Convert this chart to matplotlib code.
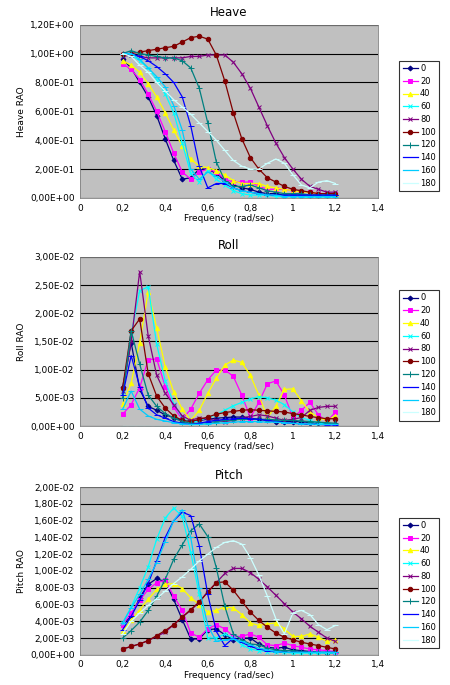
import matplotlib
matplotlib.use("Agg")
import matplotlib.pyplot as plt
from matplotlib.ticker import FuncFormatter, MultipleLocator

freq = [0.20, 0.24, 0.28, 0.32, 0.36, 0.40, 0.44, 0.48, 0.52, 0.56, 0.60, 0.64, 0.68,
        0.72, 0.76, 0.80, 0.84, 0.88, 0.92, 0.96, 1.00, 1.04, 1.08, 1.12, 1.16, 1.20]
headings = ["0", "20", "40", "60", "80", "100", "120", "140", "160", "180"]

heave = {
    "0": [0.96, 0.90, 0.80, 0.70, 0.57, 0.41, 0.26, 0.13, 0.14, 0.20, 0.20, 0.17, 0.12, 0.09, 0.07, 0.06, 0.04, 0.03, 0.03, 0.02, 0.02, 0.02, 0.02, 0.02, 0.02, 0.02],
    "20": [0.93, 0.89, 0.82, 0.72, 0.60, 0.46, 0.31, 0.18, 0.13, 0.18, 0.20, 0.18, 0.13, 0.11, 0.11, 0.11, 0.08, 0.06, 0.06, 0.06, 0.05, 0.04, 0.04, 0.03, 0.03, 0.03],
    "40": [0.95, 0.92, 0.87, 0.79, 0.70, 0.59, 0.47, 0.36, 0.27, 0.22, 0.21, 0.19, 0.16, 0.12, 0.10, 0.10, 0.10, 0.08, 0.07, 0.06, 0.05, 0.04, 0.04, 0.03, 0.03, 0.03],
    "60": [0.99, 0.99, 0.95, 0.90, 0.82, 0.72, 0.59, 0.38, 0.17, 0.11, 0.19, 0.13, 0.09, 0.05, 0.03, 0.02, 0.02, 0.02, 0.01, 0.01, 0.01, 0.01, 0.00, 0.00, 0.00, 0.00],
    "80": [0.98, 0.99, 0.98, 0.97, 0.97, 0.97, 0.97, 0.97, 0.98, 0.98, 0.99, 0.99, 0.99, 0.94, 0.86, 0.76, 0.63, 0.50, 0.38, 0.28, 0.20, 0.13, 0.08, 0.06, 0.04, 0.04],
    "100": [1.00, 1.00, 1.01, 1.02, 1.03, 1.04, 1.05, 1.08, 1.11, 1.12, 1.10, 0.99, 0.81, 0.59, 0.41, 0.28, 0.20, 0.14, 0.11, 0.08, 0.06, 0.05, 0.04, 0.03, 0.03, 0.03],
    "120": [1.00, 1.02, 1.00, 0.99, 0.98, 0.97, 0.97, 0.95, 0.90, 0.76, 0.52, 0.25, 0.12, 0.08, 0.08, 0.09, 0.07, 0.05, 0.04, 0.03, 0.03, 0.03, 0.02, 0.02, 0.02, 0.02],
    "140": [1.00, 1.00, 0.98, 0.95, 0.91, 0.86, 0.80, 0.70, 0.50, 0.22, 0.07, 0.10, 0.10, 0.07, 0.05, 0.04, 0.03, 0.02, 0.02, 0.02, 0.02, 0.02, 0.02, 0.02, 0.02, 0.02],
    "160": [1.00, 1.00, 0.96, 0.90, 0.84, 0.77, 0.64, 0.47, 0.20, 0.13, 0.18, 0.15, 0.11, 0.07, 0.05, 0.04, 0.03, 0.02, 0.02, 0.01, 0.01, 0.01, 0.01, 0.01, 0.01, 0.01],
    "180": [1.00, 0.98, 0.92, 0.87, 0.80, 0.74, 0.68, 0.63, 0.58, 0.52, 0.46, 0.40, 0.33, 0.26, 0.22, 0.20, 0.20, 0.24, 0.27, 0.24, 0.16, 0.09, 0.07, 0.11, 0.12, 0.10],
}

# roll values in units of 1e-2
roll = {
    "0": [0.69, 1.48, 0.65, 0.35, 0.28, 0.20, 0.15, 0.10, 0.09, 0.10, 0.12, 0.14, 0.15, 0.16, 0.16, 0.14, 0.12, 0.10, 0.08, 0.08, 0.08, 0.08, 0.06, 0.05, 0.04, 0.03],
    "20": [0.21, 0.38, 0.68, 1.18, 1.19, 0.70, 0.33, 0.12, 0.30, 0.58, 0.82, 0.99, 1.00, 0.88, 0.55, 0.15, 0.42, 0.75, 0.80, 0.55, 0.15, 0.28, 0.42, 0.20, 0.08, 0.25],
    "40": [0.40, 0.76, 1.48, 2.38, 1.74, 1.05, 0.60, 0.30, 0.10, 0.28, 0.58, 0.85, 1.08, 1.17, 1.13, 0.90, 0.55, 0.15, 0.35, 0.65, 0.66, 0.45, 0.25, 0.15, 0.10, 0.18],
    "60": [0.60, 1.62, 2.40, 2.47, 1.45, 0.80, 0.40, 0.15, 0.05, 0.10, 0.15, 0.20, 0.28, 0.36, 0.42, 0.48, 0.52, 0.50, 0.46, 0.38, 0.25, 0.15, 0.10, 0.05, 0.03, 0.02],
    "80": [0.62, 1.50, 2.74, 1.60, 0.90, 0.58, 0.38, 0.18, 0.10, 0.15, 0.12, 0.10, 0.08, 0.10, 0.15, 0.17, 0.20, 0.18, 0.14, 0.10, 0.12, 0.15, 0.28, 0.33, 0.35, 0.35],
    "100": [0.68, 1.69, 1.90, 0.93, 0.53, 0.32, 0.18, 0.10, 0.08, 0.12, 0.16, 0.21, 0.24, 0.26, 0.28, 0.29, 0.28, 0.27, 0.26, 0.25, 0.22, 0.20, 0.17, 0.15, 0.13, 0.13],
    "120": [0.50, 1.69, 1.10, 0.55, 0.35, 0.22, 0.14, 0.08, 0.05, 0.05, 0.06, 0.08, 0.10, 0.11, 0.12, 0.12, 0.12, 0.12, 0.11, 0.10, 0.10, 0.09, 0.08, 0.07, 0.06, 0.05],
    "140": [0.55, 1.25, 0.70, 0.32, 0.20, 0.14, 0.08, 0.05, 0.03, 0.05, 0.08, 0.10, 0.12, 0.13, 0.14, 0.13, 0.12, 0.10, 0.08, 0.06, 0.05, 0.04, 0.03, 0.03, 0.02, 0.02],
    "160": [0.30, 0.62, 0.30, 0.18, 0.12, 0.09, 0.06, 0.04, 0.03, 0.03, 0.04, 0.05, 0.06, 0.07, 0.08, 0.08, 0.08, 0.07, 0.07, 0.06, 0.05, 0.04, 0.04, 0.03, 0.03, 0.03],
    "180": [0.01, 0.01, 0.01, 0.01, 0.01, 0.01, 0.01, 0.01, 0.01, 0.01, 0.01, 0.01, 0.01, 0.01, 0.01, 0.01, 0.01, 0.01, 0.01, 0.01, 0.01, 0.01, 0.01, 0.01, 0.01, 0.01],
}

# pitch values in units of 1e-3
pitch = {
    "0": [3.6, 4.6, 6.8, 8.4, 9.1, 8.7, 6.6, 4.2, 1.9, 1.9, 3.0, 3.1, 2.4, 1.8, 2.0, 2.0, 1.3, 0.9, 0.8, 0.9, 0.6, 0.5, 0.4, 0.3, 0.2, 0.2],
    "20": [3.6, 5.0, 6.5, 7.8, 8.6, 8.9, 7.0, 5.3, 2.6, 2.1, 3.1, 3.6, 3.1, 2.2, 2.2, 2.5, 2.1, 1.2, 1.1, 1.4, 1.1, 0.9, 0.7, 0.6, 0.5, 0.4],
    "40": [2.8, 4.1, 5.4, 6.6, 7.8, 8.4, 8.5, 7.9, 6.8, 6.0, 5.1, 5.3, 5.7, 5.6, 4.8, 3.8, 3.5, 3.7, 3.8, 3.1, 2.2, 2.2, 2.5, 2.1, 1.6, 1.8],
    "60": [3.8, 5.7, 8.0, 10.5, 13.8, 16.3, 17.5, 16.5, 12.2, 7.2, 2.0, 2.0, 2.5, 2.0, 1.2, 0.7, 0.5, 0.4, 0.3, 0.3, 0.2, 0.2, 0.2, 0.2, 0.2, 0.2],
    "80": [0.7, 1.0, 1.3, 1.7, 2.2, 2.7, 3.6, 4.5, 5.3, 6.3, 7.5, 8.6, 9.7, 10.3, 10.3, 9.8, 9.0, 8.1, 7.1, 6.1, 5.1, 4.3, 3.4, 2.7, 2.0, 1.6],
    "100": [0.7, 1.0, 1.3, 1.7, 2.3, 2.9, 3.6, 4.5, 5.4, 6.3, 7.5, 8.6, 8.7, 7.7, 6.4, 5.1, 4.1, 3.3, 2.6, 2.1, 1.8, 1.5, 1.3, 1.1, 0.9, 0.7],
    "120": [2.0, 2.9, 3.9, 5.3, 7.0, 9.0, 11.4, 13.1, 14.8, 15.6, 14.1, 10.4, 5.8, 2.5, 1.8, 1.3, 1.2, 0.8, 0.6, 0.5, 0.5, 0.4, 0.3, 0.3, 0.3, 0.3],
    "140": [3.0, 4.6, 6.5, 8.5, 11.2, 14.0, 16.0, 17.0, 16.6, 13.0, 7.2, 2.8, 1.1, 2.0, 1.5, 1.0, 0.7, 0.5, 0.4, 0.3, 0.3, 0.3, 0.3, 0.3, 0.3, 0.3],
    "160": [3.8, 5.6, 7.2, 9.0, 11.0, 13.5, 16.0, 17.3, 14.0, 8.0, 3.5, 1.6, 1.8, 1.9, 1.6, 1.2, 0.8, 0.6, 0.4, 0.3, 0.3, 0.3, 0.3, 0.3, 0.3, 0.3],
    "180": [2.5, 4.0, 5.0, 5.9, 6.7, 7.6, 8.5, 9.3, 10.2, 11.2, 12.0, 12.8, 13.4, 13.6, 13.2, 11.6, 9.5, 7.0, 4.3, 2.5, 5.0, 5.3, 4.8, 3.6, 3.0, 3.5],
}

# Excel-style series look
styles = {
    "0": ("#000080", "D", 2.5),
    "20": ("#FF00FF", "s", 3.2),
    "40": ("#FFFF00", "^", 3.2),
    "60": ("#00FFFF", "x", 3),
    "80": ("#800080", "x", 3),
    "100": ("#800000", "o", 3.2),
    "120": ("#008080", "+", 4),
    "140": ("#0000FF", "_", 4),
    "160": ("#00CCFF", "_", 4),
    "180": ("#CCFFFF", "_", 4),
}


def sci_comma(v, _pos):
    return f"{v:.2E}".replace(".", ",")


def x_comma(v, _pos):
    return f"{v:g}".replace(".", ",")


panels = [
    ("Heave", "Heave RAO", heave, 1.0, 1.2, 0.2, [0.178, 0.711, 0.662, 0.253], [0.878, 0.715]),
    ("Roll", "Roll RAO", roll, 1e-2, 0.03, 0.005, [0.178, 0.378, 0.662, 0.247], [0.878, 0.380]),
    ("Pitch", "Pitch RAO", pitch, 1e-3, 0.02, 0.002, [0.178, 0.044, 0.662, 0.245], [0.878, 0.048]),
]

fig = plt.figure(figsize=(4.5, 6.85), dpi=100)
for title, ylabel, data, scale, ymax, ystep, rect, leg_pos in panels:
    ax = fig.add_axes(rect)
    ax.set_facecolor("#C0C0C0")
    for h in headings:
        color, marker, ms = styles[h]
        ax.plot(freq, [v * scale for v in data[h]], color=color, marker=marker,
                markersize=ms, linewidth=0.9, markeredgewidth=0.7, label=h)
    ax.set_xlim(0, 1.4)
    ax.set_ylim(0, ymax)
    ax.xaxis.set_major_locator(MultipleLocator(0.2))
    ax.yaxis.set_major_locator(MultipleLocator(ystep))
    ax.xaxis.set_major_formatter(FuncFormatter(x_comma))
    ax.yaxis.set_major_formatter(FuncFormatter(sci_comma))
    ax.yaxis.grid(True, color="black", linewidth=0.8)
    ax.set_axisbelow(True)
    for s in ax.spines.values():
        s.set_color("#808080")
        s.set_linewidth(0.6)
    ax.tick_params(length=0, labelsize=6.5, pad=4)
    ax.set_title(title, fontsize=8.5, pad=6)
    ax.set_ylabel(ylabel, fontsize=6.5, labelpad=3)
    ax.set_xlabel("Frequency (rad/sec)", fontsize=6.5, labelpad=1)
    leg = fig.legend(*ax.get_legend_handles_labels(), loc="lower left",
                     bbox_to_anchor=leg_pos, fontsize=6, frameon=True,
                     fancybox=False, edgecolor="black", handlelength=1.8,
                     labelspacing=0.45, borderpad=0.4, handletextpad=0.3)
    leg.get_frame().set_linewidth(0.8)

fig.savefig("out.png", dpi=100)
